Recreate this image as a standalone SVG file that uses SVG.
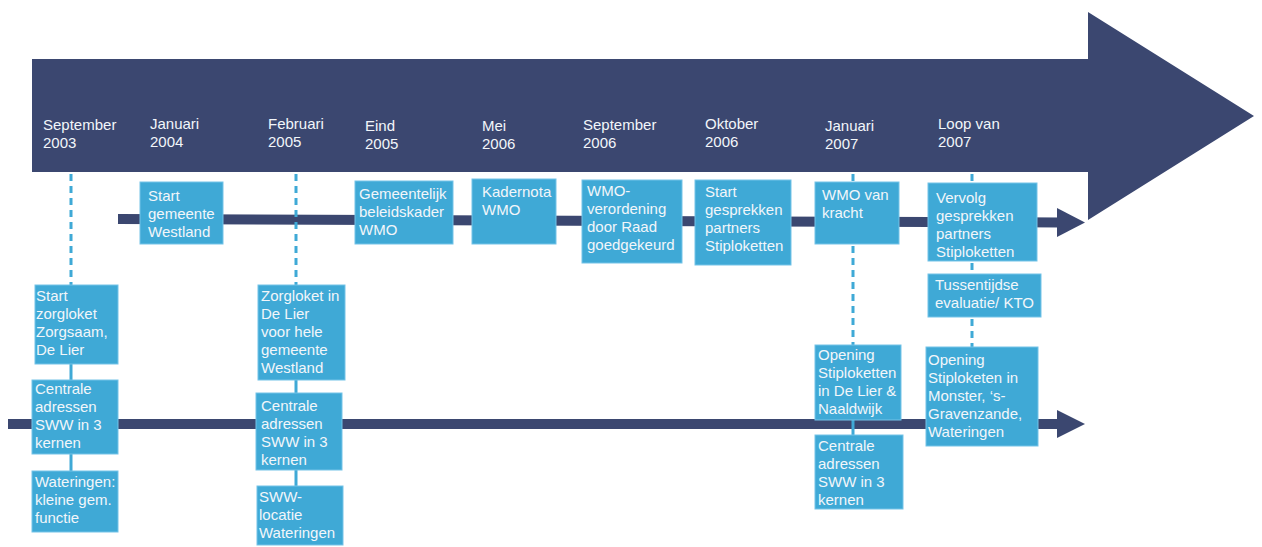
<svg xmlns="http://www.w3.org/2000/svg" width="1262" height="547" viewBox="0 0 1262 547">
<style>
text{font-family:"Liberation Sans",Arial,sans-serif;font-size:15px;fill:#f2f6fa}
.box{fill:#3fa9d6;stroke:#74c3e8;stroke-width:1}
.dash{stroke:#3fa9d6;stroke-width:3;stroke-dasharray:7 5;fill:none}
.solid{stroke:#3fa9d6;stroke-width:3;fill:none}
.tl{stroke:#3b4770;stroke-width:10;fill:none}
.head{fill:#3b4770}
</style>
<rect width="1262" height="547" fill="#ffffff"/>
<path id="big-arrow" d="M32,59 H1088 V12 L1254,116 L1088,220 V172 H32 Z" fill="#3b4770"/>
<g id="dates">
<text x="43" y="130">September<tspan x="43" y="148">2003</tspan></text>
<text x="150" y="129">Januari<tspan x="150" y="147">2004</tspan></text>
<text x="268" y="129">Februari<tspan x="268" y="147">2005</tspan></text>
<text x="365" y="131">Eind<tspan x="365" y="149">2005</tspan></text>
<text x="482" y="131">Mei<tspan x="482" y="149">2006</tspan></text>
<text x="583" y="130">September<tspan x="583" y="148">2006</tspan></text>
<text x="705" y="129">Oktober<tspan x="705" y="147">2006</tspan></text>
<text x="825" y="131">Januari<tspan x="825" y="149">2007</tspan></text>
<text x="938" y="129">Loop van<tspan x="938" y="147">2007</tspan></text>
</g>
<g id="connectors">
<line class="tl" x1="118" y1="219" x2="1060" y2="222.5"/>
<polygon class="head" points="1057,208 1085,222.5 1057,237"/>
<line class="tl" x1="8" y1="424" x2="1060" y2="424"/>
<polygon class="head" points="1057,410 1085,424 1057,438"/>
<line class="dash" x1="71" y1="174" x2="71" y2="285"/>
<line class="solid" x1="71" y1="364" x2="71" y2="380"/>
<line class="solid" x1="71" y1="454" x2="71" y2="471"/>
<line class="dash" x1="296" y1="174" x2="296" y2="285"/>
<line class="solid" x1="296" y1="380" x2="296" y2="393"/>
<line class="solid" x1="296" y1="470" x2="296" y2="486"/>
<line class="dash" x1="853" y1="174" x2="853" y2="345"/>
<line class="solid" x1="853" y1="420" x2="853" y2="435"/>
<line class="dash" x1="972" y1="174" x2="972" y2="183"/>
<line class="dash" x1="972" y1="263" x2="972" y2="274"/>
<line class="dash" x1="972" y1="319" x2="972" y2="347"/>
</g>
<g id="n-start-westland"><rect class="box" x="140" y="182" width="83" height="62"/><text x="148" y="201">Start<tspan x="148" y="219">gemeente</tspan><tspan x="148" y="237">Westland</tspan></text></g>
<g id="n-beleidskader"><rect class="box" x="355" y="181" width="98" height="63"/><text x="359" y="199">Gemeentelijk<tspan x="359" y="217">beleidskader</tspan><tspan x="359" y="235">WMO</tspan></text></g>
<g id="n-kadernota"><rect class="box" x="472" y="179" width="84" height="65"/><text x="482" y="197">Kadernota<tspan x="482" y="215">WMO</tspan></text></g>
<g id="n-verordening"><rect class="box" x="582" y="180" width="100" height="83"/><text x="587" y="196">WMO-<tspan x="587" y="214">verordening</tspan><tspan x="587" y="232">door Raad</tspan><tspan x="587" y="250">goedgekeurd</tspan></text></g>
<g id="n-start-gesprekken"><rect class="box" x="695" y="180" width="96" height="85"/><text x="705" y="197">Start<tspan x="705" y="215">gesprekken</tspan><tspan x="705" y="233">partners</tspan><tspan x="705" y="251">Stiploketten</tspan></text></g>
<g id="n-wmo-kracht"><rect class="box" x="815" y="182" width="84" height="62"/><text x="822" y="200">WMO van<tspan x="822" y="218">kracht</tspan></text></g>
<g id="n-vervolg"><rect class="box" x="928" y="183" width="109" height="78"/><text x="936" y="203">Vervolg<tspan x="936" y="221">gesprekken</tspan><tspan x="936" y="239">partners</tspan><tspan x="936" y="257">Stiploketten</tspan></text></g>
<g id="n-tussentijdse"><rect class="box" x="928" y="274" width="113" height="43"/><text x="935" y="290">Tussentijdse<tspan x="935" y="308">evaluatie/ KTO</tspan></text></g>
<g id="n-zorgloket-zorgsaam"><rect class="box" x="35" y="285" width="83" height="79"/><text x="36" y="301">Start<tspan x="36" y="319">zorgloket</tspan><tspan x="36" y="337">Zorgsaam,</tspan><tspan x="36" y="355">De Lier</tspan></text></g>
<g id="n-centrale-1"><rect class="box" x="32" y="380" width="86" height="74"/><text x="35" y="394">Centrale<tspan x="35" y="412">adressen</tspan><tspan x="35" y="430">SWW in 3</tspan><tspan x="35" y="448">kernen</tspan></text></g>
<g id="n-wateringen"><rect class="box" x="32" y="471" width="86" height="61"/><text x="35" y="487">Wateringen:<tspan x="35" y="505">kleine gem.</tspan><tspan x="35" y="523">functie</tspan></text></g>
<g id="n-zorgloket-delier"><rect class="box" x="258" y="285" width="87" height="95"/><text x="261" y="301">Zorgloket in<tspan x="261" y="319">De Lier</tspan><tspan x="261" y="337">voor hele</tspan><tspan x="261" y="355">gemeente</tspan><tspan x="261" y="373">Westland</tspan></text></g>
<g id="n-centrale-2"><rect class="box" x="256" y="393" width="86" height="77"/><text x="261" y="411">Centrale<tspan x="261" y="429">adressen</tspan><tspan x="261" y="447">SWW in 3</tspan><tspan x="261" y="465">kernen</tspan></text></g>
<g id="n-sww-locatie"><rect class="box" x="257" y="486" width="86" height="59"/><text x="259" y="502">SWW-<tspan x="259" y="520">locatie</tspan><tspan x="259" y="538">Wateringen</tspan></text></g>
<g id="n-opening-delier"><rect class="box" x="815" y="345" width="86" height="75"/><text x="818" y="360">Opening<tspan x="818" y="378">Stiploketten</tspan><tspan x="818" y="396">in De Lier &amp;</tspan><tspan x="818" y="414">Naaldwijk</tspan></text></g>
<g id="n-centrale-3"><rect class="box" x="815" y="435" width="88" height="74"/><text x="818" y="451">Centrale<tspan x="818" y="469">adressen</tspan><tspan x="818" y="487">SWW in 3</tspan><tspan x="818" y="505">kernen</tspan></text></g>
<g id="n-opening-monster"><rect class="box" x="926" y="347" width="112" height="99"/><text x="928" y="365">Opening<tspan x="928" y="383">Stiploketen in</tspan><tspan x="928" y="401">Monster, ‘s-</tspan><tspan x="928" y="419">Gravenzande,</tspan><tspan x="928" y="437">Wateringen</tspan></text></g>
</svg>
